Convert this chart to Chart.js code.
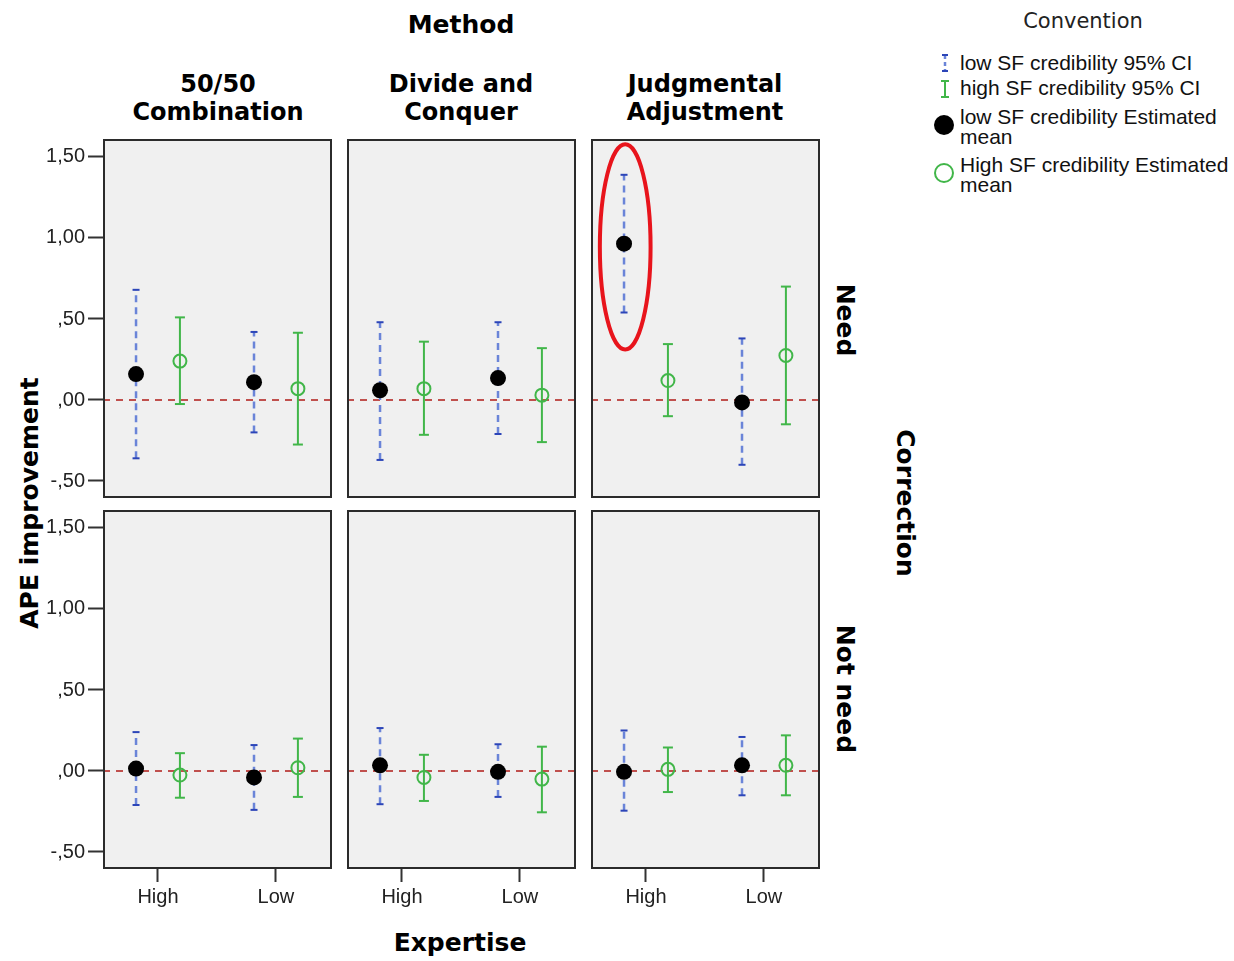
<!DOCTYPE html>
<html>
<head>
<meta charset="utf-8">
<title>APE improvement by Method, Expertise and Correction</title>
<script src="https://cdn.jsdelivr.net/npm/chart.js@4.4.1/dist/chart.umd.min.js"></script>
<style>
    body { margin: 0; background: #fff; }
    #page { position: relative; width: 1234px; height: 961px; overflow: hidden; font-family: "DejaVu Sans", sans-serif; color: #000; }
    #page canvas { position: absolute; }
    .lbl { position: absolute; white-space: nowrap; transform: translate(-50%, -50%); font-weight: bold; font-size: 25px; text-align: center; }
    .head { font-size: 24px; line-height: 28px; }
    .legtext { position: absolute; left: 960px; font-family: "Liberation Sans", Arial, sans-serif; font-size: 21px; line-height: 20px; color: #111; white-space: nowrap; }
    .legicon { position: absolute; }
</style>
</head>
<body>
<div id="page">
    <div class="lbl" style="left:461px; top:24px;">Method</div>
    <div class="lbl head" style="left:218px; top:98px;">50/50<br>Combination</div>
    <div class="lbl head" style="left:461px; top:98px;">Divide and<br>Conquer</div>
    <div class="lbl head" style="left:705px; top:98px;">Judgmental<br>Adjustment</div>
    <div class="lbl" style="left:845px; top:320px; transform:translate(-50%,-50%) rotate(90deg);">Need</div>
    <div class="lbl" style="left:845px; top:689px; transform:translate(-50%,-50%) rotate(90deg);">Not need</div>
    <div class="lbl" style="left:905px; top:503px; transform:translate(-50%,-50%) rotate(90deg);">Correction</div>
    <div class="lbl" style="left:29px; top:503px; transform:translate(-50%,-50%) rotate(-90deg);">APE improvement</div>
    <div class="lbl" style="left:460px; top:942px;">Expertise</div>

    <!-- legend -->
    <div class="lbl" style="left:1083px; top:21px; font-weight:normal; font-size:21px; color:#222;">Convention</div>
    <svg class="legicon" style="left:936px; top:52px;" width="18" height="22">
        <line x1="9" y1="3" x2="9" y2="19" stroke="#6a84d8" stroke-width="2.5" stroke-dasharray="4,3"/>
        <line x1="6" y1="3" x2="12" y2="3" stroke="#2c45b8" stroke-width="2"/>
        <line x1="6" y1="19" x2="12" y2="19" stroke="#2c45b8" stroke-width="2"/>
    </svg>
    <div class="legtext" style="top:53px;">low SF credibility 95% CI</div>
    <svg class="legicon" style="left:936px; top:78px;" width="18" height="22">
        <line x1="9" y1="3" x2="9" y2="19" stroke="#41b649" stroke-width="2"/>
        <line x1="5" y1="3" x2="13" y2="3" stroke="#41b649" stroke-width="2"/>
        <line x1="5" y1="19" x2="13" y2="19" stroke="#41b649" stroke-width="2"/>
    </svg>
    <div class="legtext" style="top:78px;">high SF credibility 95% CI</div>
    <svg class="legicon" style="left:932px; top:113px;" width="24" height="24">
        <circle cx="12" cy="12" r="10" fill="#000"/>
    </svg>
    <div class="legtext" style="top:107px;">low SF credibility Estimated<br>mean</div>
    <svg class="legicon" style="left:932px; top:161px;" width="24" height="24">
        <circle cx="12" cy="12" r="9" fill="none" stroke="#41b649" stroke-width="2"/>
    </svg>
    <div class="legtext" style="top:155px;">High SF credibility Estimated<br>mean</div>
</div>

<script>
// Categories
const corrections = ["Need", "Not need"];
const methods = ["50/50 Combination", "Divide and Conquer", "Judgmental Adjustment"];
const expertise = ["High", "Low"];
const yTicks = [-0.5, 0, 0.5, 1, 1.5];

// low SF credibility: [correction][method][expertise]
const lowMean = [
    [[0.16, 0.11], [0.06, 0.135], [0.965, -0.015]],
    [[0.015, -0.04], [0.035, -0.005], [-0.005, 0.035]]
];
const lowLower = [
    [[-0.36, -0.20], [-0.37, -0.21], [0.54, -0.40]],
    [[-0.21, -0.24], [-0.205, -0.16], [-0.245, -0.15]]
];
const lowUpper = [
    [[0.68, 0.42], [0.48, 0.48], [1.39, 0.38]],
    [[0.24, 0.16], [0.265, 0.165], [0.25, 0.21]]
];

// high SF credibility: [correction][method][expertise]
const highMean = [
    [[0.24, 0.07], [0.07, 0.03], [0.12, 0.275]],
    [[-0.025, 0.02], [-0.04, -0.05], [0.01, 0.035]]
];
const highLower = [
    [[-0.025, -0.275], [-0.215, -0.26], [-0.10, -0.15]],
    [[-0.165, -0.16], [-0.185, -0.255], [-0.13, -0.15]]
];
const highUpper = [
    [[0.51, 0.415], [0.36, 0.32], [0.345, 0.70]],
    [[0.11, 0.20], [0.10, 0.15], [0.145, 0.22]]
];

// Layout of the panel grid
const panelX = [103, 347, 591];
const panelY = [139, 510];
const panelW = 229;
const panelH = 359;
const yAxisW = 103;
const xAxisH = 45;
const xMin = -0.466, xMax = 1.475;
const yMin = -0.605, yMax = 1.611;
const dodge = 0.186; // horizontal shift of the two series around each category

const blue = "#6a84d8";
const blueCap = "#2c45b8";
const green = "#41b649";

// Red ellipse drawn round the Judgmental Adjustment / Need / High point
const highlight = { row: 0, col: 2, x: -dodge + 0.01, y: 0.945, rx: 0.215, ry: 0.633 };

function fmtTick(v) {
    let s = Math.abs(v).toFixed(2).replace(".", ",").replace(/^0/, "");
    return (v < 0 ? "-" : "") + s;
}

// Panel background and frame
const panelFrame = {
    id: "panelFrame",
    beforeDraw(chart) {
        let a = chart.chartArea, ctx = chart.ctx;
        ctx.save();
        ctx.fillStyle = "#f0f0f0";
        ctx.fillRect(a.left, a.top, a.width, a.height);
        ctx.restore();
    },
    afterDraw(chart) {
        let a = chart.chartArea, ctx = chart.ctx;
        ctx.save();
        ctx.strokeStyle = "#2b2b2b";
        ctx.lineWidth = 2;
        ctx.strokeRect(a.left + 1, a.top + 1, a.width - 2, a.height - 2);
        let h = chart.options.plugins.panelFrame.highlight;
        if (h) {
            let xs = chart.scales.x, ys = chart.scales.y;
            let cx = xs.getPixelForValue(h.x), cy = ys.getPixelForValue(h.y);
            let rx = Math.abs(xs.getPixelForValue(h.x + h.rx) - cx);
            let ry = Math.abs(ys.getPixelForValue(h.y + h.ry) - cy);
            ctx.strokeStyle = "#e8141c";
            ctx.lineWidth = 4;
            ctx.beginPath();
            ctx.ellipse(cx, cy, rx, ry, 0, 0, Math.PI * 2);
            ctx.stroke();
        }
        ctx.restore();
    }
};

function errorBar(x, lo, hi, color, capColor, dash, width, capRadius) {
    return {
        type: "line",
        data: [{ x: x, y: lo }, { x: x, y: hi }],
        borderColor: color,
        borderWidth: width,
        borderDash: dash,
        pointStyle: "line",
        pointRadius: capRadius,
        pointHoverRadius: capRadius,
        pointBorderColor: capColor,
        pointBorderWidth: 2
    };
}

function makePanel(row, col) {
    let left = col === 0;
    let bottom = row === corrections.length - 1;
    let canvas = document.createElement("canvas");
    canvas.width = panelW + (left ? yAxisW : 0);
    canvas.height = panelH + (bottom ? xAxisH : 0);
    canvas.style.left = (panelX[col] - (left ? yAxisW : 0)) + "px";
    canvas.style.top = panelY[row] + "px";
    document.getElementById("page").appendChild(canvas);

    let datasets = [];
    // means on top
    datasets.push({
        type: "line", showLine: false,
        data: expertise.map((e, i) => ({ x: i - dodge, y: lowMean[row][col][i] })),
        pointRadius: 8, pointHoverRadius: 8,
        pointBackgroundColor: "#000", pointBorderWidth: 0
    });
    datasets.push({
        type: "line", showLine: false,
        data: expertise.map((e, i) => ({ x: i + dodge, y: highMean[row][col][i] })),
        pointRadius: 6.5, pointHoverRadius: 6.5,
        pointBackgroundColor: "rgba(0,0,0,0)", pointBorderColor: green, pointBorderWidth: 2
    });
    // 95% CI bars
    expertise.forEach((e, i) => {
        datasets.push(errorBar(i - dodge, lowLower[row][col][i], lowUpper[row][col][i], blue, blueCap, [7, 5], 2.5, 3.5));
        datasets.push(errorBar(i + dodge, highLower[row][col][i], highUpper[row][col][i], green, green, [], 2, 5));
    });
    // reference line at zero
    datasets.push({
        type: "line",
        data: [{ x: xMin, y: 0 }, { x: xMax, y: 0 }],
        borderColor: "#c0504d", borderWidth: 2, borderDash: [7, 6],
        pointRadius: 0, pointHoverRadius: 0
    });

    new Chart(canvas, {
        type: "line",
        data: { datasets: datasets },
        options: {
            responsive: false,
            animation: false,
            layout: { padding: 0, autoPadding: false },
            plugins: {
                legend: { display: false },
                tooltip: { enabled: false },
                panelFrame: { highlight: (highlight.row === row && highlight.col === col) ? highlight : null }
            },
            scales: {
                x: {
                    type: "linear", min: xMin, max: xMax, display: bottom,
                    afterBuildTicks: s => { s.ticks = expertise.map((e, i) => ({ value: i })); },
                    afterFit: s => {
                        s.paddingLeft = 0; s.paddingRight = 0;
                        s.height = s.options.display ? xAxisH : 0;
                    },
                    ticks: {
                        callback: v => expertise[v],
                        autoSkip: false, maxRotation: 0, padding: 3,
                        color: "#222",
                        font: { family: "Liberation Sans", size: 20 }
                    },
                    grid: { drawOnChartArea: false, drawTicks: true, tickLength: 13, tickColor: "#333", tickWidth: 2 },
                    border: { display: false }
                },
                y: {
                    type: "linear", min: yMin, max: yMax, display: left,
                    afterBuildTicks: s => { s.ticks = yTicks.map(v => ({ value: v })); },
                    afterFit: s => {
                        s.paddingTop = 0; s.paddingBottom = 0;
                        s.width = s.options.display ? yAxisW : 0;
                    },
                    ticks: {
                        callback: v => fmtTick(v),
                        autoSkip: false, padding: 3,
                        color: "#222",
                        font: { family: "Liberation Sans", size: 20 }
                    },
                    grid: { drawOnChartArea: false, drawTicks: true, tickLength: 15, tickColor: "#333", tickWidth: 2 },
                    border: { display: false }
                }
            }
        },
        plugins: [panelFrame]
    });
}

corrections.forEach((c, r) => {
    methods.forEach((m, k) => makePanel(r, k));
});
</script>
</body>
</html>
